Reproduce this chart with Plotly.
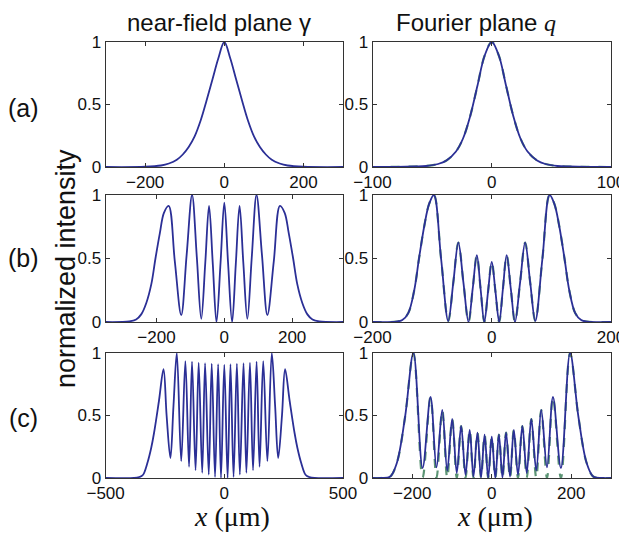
import plotly.graph_objects as go

# ---------------- data ----------------
# (a) near-field
NF_A_X = [-300, -200, -160, -140, -120, -105, -90, -75, -60, -45, -30, -15, 0,
          15, 30, 45, 60, 75, 90, 105, 120, 140, 160, 200, 300]
NF_A_Y = [0, 0.002, 0.012, 0.028, 0.058, 0.1, 0.16, 0.245, 0.37, 0.53, 0.7, 0.87, 1.0,
          0.87, 0.7, 0.53, 0.37, 0.245, 0.16, 0.1, 0.058, 0.028, 0.012, 0.002, 0]
# (a) Fourier
FP_A_X = [-100, -80, -65, -55, -45, -38, -30, -24, -18, -12, -6, 0,
          6, 12, 18, 24, 30, 38, 45, 55, 65, 80, 100]
FP_A_Y = [0, 0.001, 0.004, 0.008, 0.024, 0.052, 0.124, 0.23, 0.41, 0.65, 0.89, 1.0,
          0.89, 0.65, 0.41, 0.23, 0.124, 0.052, 0.024, 0.008, 0.004, 0.001, 0]

# (b) near-field
NF_B_X = [-350, -280, -260, -245, -230, -215, -203, -190, -178, -164, -146, -127, -111, -95,
          -81, -68, -56, -45, -34, -23, -11, 0,
          11, 23, 34, 45, 56, 68, 81, 95, 111, 127, 146, 164, 178, 190, 203, 215, 230, 245, 260, 280, 350]
NF_B_Y = [0, 0.005, 0.02, 0.06, 0.15, 0.3, 0.5, 0.7, 0.86, 0.915, 0.48, 0.055, 0.53, 1.0,
          0.51, 0.025, 0.47, 0.915, 0.46, 0.0, 0.47, 0.94,
          0.47, 0.0, 0.46, 0.915, 0.47, 0.025, 0.51, 1.0, 0.53, 0.055, 0.48, 0.915, 0.86, 0.7, 0.5, 0.3, 0.15, 0.06, 0.02, 0.005, 0]
# (b) Fourier
FP_B_X = [-200, -160, -150, -140, -130, -122, -113, -105, -97, -85, -73, -64.5, -56, -47.5, -39,
          -32, -25, -18.7, -12.5, -6.2, 0,
          6.2, 12.5, 18.7, 25, 32, 39, 47.5, 56, 64.5, 73, 85, 97, 105, 113, 122, 130, 140, 150, 160, 200]
FP_B_Y = [0, 0.003, 0.015, 0.07, 0.25, 0.5, 0.76, 0.93, 1.0, 0.5, 0.008, 0.31, 0.626, 0.31, 0.0,
          0.26, 0.526, 0.26, 0.0, 0.24, 0.474,
          0.24, 0.0, 0.26, 0.526, 0.26, 0.0, 0.31, 0.626, 0.31, 0.008, 0.5, 1.0, 0.93, 0.76, 0.5, 0.25, 0.07, 0.015, 0.003, 0]

# (c) near-field: flanks, peaks, troughs
NF_C_FLANK_X = [-500, -380, -358, -343, -324, -308, -296, -275, -243, -214,
                214, 243, 275, 296, 308, 324, 343, 358, 380, 500]
NF_C_FLANK_Y = [0, 0, 0.008, 0.024, 0.12, 0.24, 0.36, 0.62, 0.5, 0.58,
                0.58, 0.5, 0.62, 0.36, 0.24, 0.12, 0.024, 0.008, 0, 0]
NF_C_PEAK_X = [-256, -200, -164, -136, -108, -81, -53, -26, 0, 26, 53, 81, 108, 136, 164, 200, 256]
NF_C_PEAK_Y = [0.87, 1.0, 0.935, 0.93, 0.923, 0.918, 0.914, 0.91, 0.907,
               0.91, 0.914, 0.918, 0.923, 0.93, 0.935, 1.0, 0.87]
NF_C_TROUGH_X = [-227, -181.5, -148.5, -121, -93, -65.5, -39, -14, 14, 39, 65.5, 93, 121, 148.5, 181.5, 227]
NF_C_TROUGH_Y = [0.16, 0.135, 0.09, 0.062, 0.042, 0.027, 0.008, 0.0,
                 0.0, 0.008, 0.027, 0.042, 0.062, 0.09, 0.135, 0.16]

# (c) Fourier: flanks, peaks, troughs (solid = blue, dashed = green)
FP_C_FLANK_X = [-300, -280, -256, -239, -218, 218, 239, 256, 280, 300]
FP_C_FLANK_Y = [0, 0, 0.01, 0.118, 0.49, 0.49, 0.118, 0.01, 0, 0]
FP_C_PEAK_X = [-197, -154, -124.5, -99.5, -77, -55.5, -36, -18, 0, 18, 36, 55.5, 77, 99.5, 124.5, 154, 197]
FP_C_PEAK_Y = [1.0, 0.648, 0.544, 0.472, 0.416, 0.384, 0.363, 0.347, 0.33,
               0.347, 0.363, 0.384, 0.416, 0.472, 0.544, 0.648, 1.0]
FP_C_TROUGH_X = [-174, -139, -112, -88, -66, -46, -27, -9, 9, 27, 46, 66, 88, 112, 139, 174]
FP_C_TROUGH_SOLID = [0.08, 0.085, 0.06, 0.04, 0.025, 0.012, 0.004, 0.0,
                     0.0, 0.004, 0.012, 0.025, 0.04, 0.06, 0.085, 0.08]
FP_C_TROUGH_DASHED = [0.0] * 16

# axes
XRANGES = [[-300, 300], [-100, 100], [-350, 350], [-200, 200], [-500, 500], [-300, 300]]
XTICKS = [[-200, 0, 200], [-100, 0, 100], [-200, 0, 200], [-200, 0, 200], [-500, 0, 500], [-200, 0, 200]]
YTICKS = [0, 0.5, 1]
YTICKTEXT = ["0", "0.5", "1"]

TITLES = ["near-field plane γ",
          "Fourier plane <span style=\"font-family:'Liberation Serif'\"><i>q</i></span>"]
ROW_LABELS = ["(a)", "(b)", "(c)"]
YLABEL = "normalized intensity"
XLABEL = "<i>x</i> (μm)"

# ---------------- figure ----------------
BLUE = "#2b2f96"
GREEN = "#5b9474"

# the page puts the figure 8 px in from the window's corner
OFF = 8
W, H = 627 - OFF, 534 - OFF


def px(p):
    return (p - OFF) / W


def py(p):
    return 1 - (p - OFF) / H


def merge(*pairs):
    pts = []
    for xs, ys in pairs:
        pts.extend(zip(xs, ys))
    pts.sort(key=lambda p: p[0])
    return [p[0] for p in pts], [p[1] for p in pts]


nf_c = merge((NF_C_FLANK_X, NF_C_FLANK_Y), (NF_C_PEAK_X, NF_C_PEAK_Y), (NF_C_TROUGH_X, NF_C_TROUGH_Y))
fp_c_solid = merge((FP_C_FLANK_X, FP_C_FLANK_Y), (FP_C_PEAK_X, FP_C_PEAK_Y), (FP_C_TROUGH_X, FP_C_TROUGH_SOLID))
fp_c_dash = merge((FP_C_FLANK_X, FP_C_FLANK_Y), (FP_C_PEAK_X, FP_C_PEAK_Y), (FP_C_TROUGH_X, FP_C_TROUGH_DASHED))

panels = [
    [(NF_A_X, NF_A_Y)],
    [(FP_A_X, FP_A_Y), (FP_A_X, FP_A_Y)],
    [(NF_B_X, NF_B_Y)],
    [(FP_B_X, FP_B_Y), (FP_B_X, FP_B_Y)],
    [nf_c],
    [fp_c_solid, fp_c_dash],
]

XDOM = [[px(105.6), px(343)], [px(372.5), px(611)]]
YDOM = [[py(167), py(42)], [py(322), py(195)], [py(478), py(353)]]

fig = go.Figure()
layout = {}
for i, curves in enumerate(panels):
    r, c = divmod(i, 2)
    n = i + 1
    xa = "x" if n == 1 else f"x{n}"
    ya = "y" if n == 1 else f"y{n}"
    # dashed (green) below, solid (blue) on top
    if len(curves) == 2:
        fig.add_trace(go.Scatter(x=curves[1][0], y=curves[1][1], mode="lines",
                                 line=dict(color=GREEN, width=2.2, dash="dash", shape="spline", smoothing=1),
                                 xaxis=xa, yaxis=ya, showlegend=False))
    fig.add_trace(go.Scatter(x=curves[0][0], y=curves[0][1], mode="lines",
                             line=dict(color=BLUE, width=1.8, shape="spline", smoothing=1),
                             xaxis=xa, yaxis=ya, showlegend=False))
    common = dict(showline=True, linecolor="#333", linewidth=1, mirror="ticks", ticks="inside",
                  ticklen=4, tickcolor="#333", showgrid=False, zeroline=False, automargin=False,
                  tickfont=dict(family="Liberation Sans", size=17, color="#111"))
    layout["xaxis" if n == 1 else f"xaxis{n}"] = dict(
        domain=XDOM[c], range=XRANGES[i], tickvals=XTICKS[i], anchor=ya, **common)
    layout["yaxis" if n == 1 else f"yaxis{n}"] = dict(
        domain=YDOM[r], range=[0, 1], tickvals=YTICKS, ticktext=YTICKTEXT, anchor=xa, **common)

fig.update_layout(**layout)

ann = []
for c, t in enumerate(TITLES):
    ann.append(dict(text=t, x=px([219, 476][c]), y=py(22), xref="paper", yref="paper",
                    showarrow=False, xanchor="center", yanchor="middle",
                    font=dict(family="Liberation Sans", size=24, color="#111")))
for r, t in enumerate(ROW_LABELS):
    ann.append(dict(text=t, x=px(23), y=py([108, 258, 418][r]), xref="paper", yref="paper",
                    showarrow=False, xanchor="center", yanchor="middle",
                    font=dict(family="Liberation Sans", size=25, color="#111")))
ann.append(dict(text=YLABEL, x=px(66), y=py(269), xref="paper", yref="paper", textangle=-90,
                showarrow=False, xanchor="center", yanchor="middle",
                font=dict(family="Liberation Sans", size=27, color="#111")))
for c in range(2):
    ann.append(dict(text=XLABEL, x=px([232, 495][c]), y=py(516), xref="paper", yref="paper",
                    showarrow=False, xanchor="center", yanchor="middle",
                    font=dict(family="Liberation Serif", size=28, color="#111")))

fig.update_layout(annotations=ann, width=W, height=H,
                  margin=dict(l=0, r=0, t=0, b=0, autoexpand=False),
                  paper_bgcolor="white", plot_bgcolor="white")

fig.write_html("out.html")
